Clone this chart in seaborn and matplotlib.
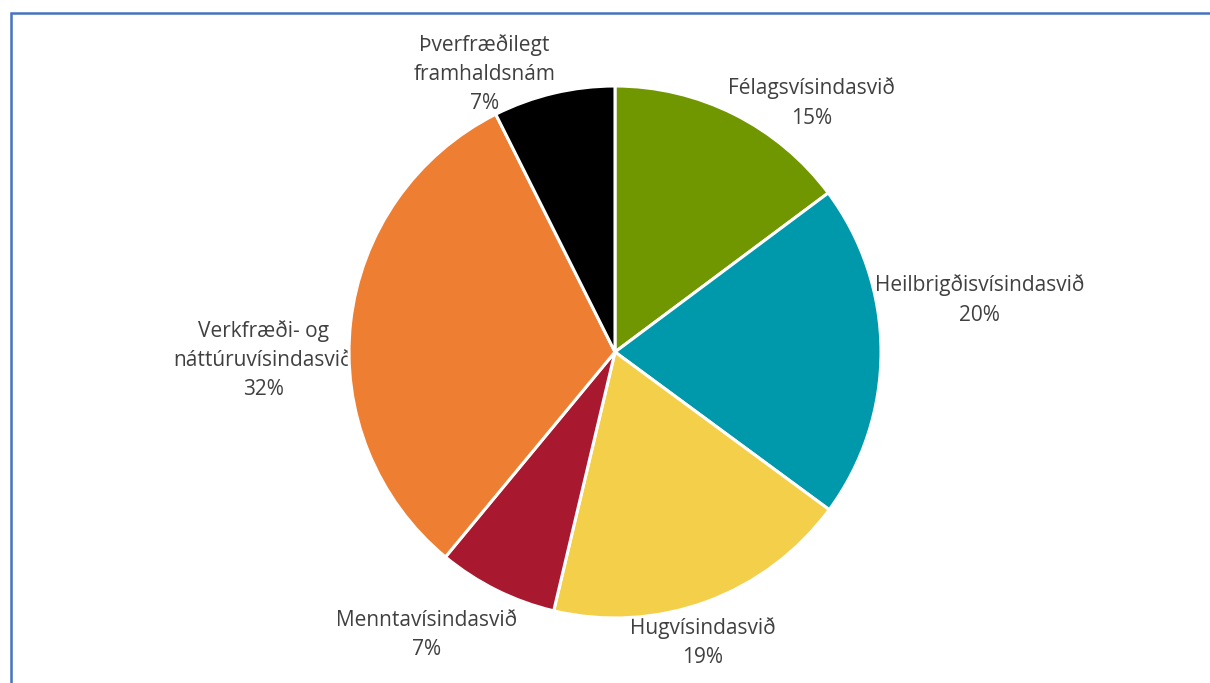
import matplotlib
matplotlib.use("Agg")
import matplotlib.pyplot as plt
import seaborn as sns
from matplotlib.patches import Rectangle

# slices in drawing order, clockwise from 12 o'clock
categories = [
    "Félagsvísindasvið",
    "Heilbrigðisvísindasvið",
    "Hugvísindasvið",
    "Menntavísindasvið",
    "Verkfræði- og\nnáttúruvísindasvið",
    "Þverfræðilegt\nframhaldsnám",
]
shares = [14.8, 20.3, 18.6, 7.3, 31.6, 7.4]
colors = ["#709600", "#0099AC", "#F4CF4A", "#A8192F", "#EE7E32", "#000000"]

# label block centres, in pie radius units
label_pos = [
    (0.738, 0.936),
    (1.371, 0.195),
    (0.330, -1.092),
    (-0.708, -1.064),
    (-1.322, -0.030),
    (-0.491, 1.045),
]

sns.set_theme(style="white")
plt.rcParams["font.family"] = ["Open Sans", "DejaVu Sans"]

W, H = 1210, 683
cx, cy, r = 615, 352, 266

fig = plt.figure(figsize=(W / 100, H / 100), dpi=100)
ax = fig.add_axes([0, 0, 1, 1])

ax.pie(
    shares,
    colors=colors,
    startangle=90,
    counterclock=False,
    wedgeprops=dict(edgecolor="white", linewidth=2.2, zorder=2),
)

for name, val, (x, y) in zip(categories, shares, label_pos):
    ax.text(x, y, f"{name}\n{round(val)}%", ha="center", va="center",
            fontsize=15, color="#404040", linespacing=1.52, zorder=1)

ax.set_xlim(-cx / r, (W - cx) / r)
ax.set_ylim(-(H - cy) / r, cy / r)
ax.axis("off")

# chart frame, right and bottom edges fall outside the image
fig.patches.append(Rectangle((11 / W, -0.1), 1.2, (H - 13) / H + 0.1,
                             transform=fig.transFigure, fill=False,
                             edgecolor="#4472C4", linewidth=1.8))

fig.savefig("out.png", dpi=100)
